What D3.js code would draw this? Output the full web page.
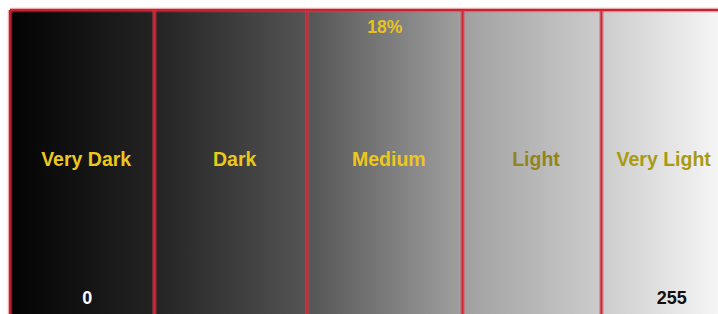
<!DOCTYPE html>
<html><head><meta charset="utf-8">
<script src="https://cdn.jsdelivr.net/npm/d3@7"></script>
<style>html,body{margin:0;padding:0;background:#fff;overflow:hidden}</style>
</head><body><svg id="c" width="718" height="314"></svg>
<script>
const zones = ["Very Dark","Dark","Medium","Light","Very Light"];
const boundaries = [0, 52, 107, 163, 213, 255];
const grayStops = [[0,3],[52,35],[107,84],[163,160],[213,204],[255,245]];
const lightZones = ["Light","Very Light"];
const markLabel = "18%";
const endLabels = ["0","255"];

const W = 718, H = 314, L = 10, T = 10;
const svg = d3.select("#c");
const x = d3.scaleLinear().domain([0,255]).range([L, W]);
const defs = svg.append("defs");
const grad = defs.append("linearGradient").attr("id","g")
  .attr("gradientUnits","userSpaceOnUse").attr("x1",x(0)).attr("x2",x(255)).attr("y1",0).attr("y2",0);
grad.selectAll("stop").data(grayStops).join("stop")
  .attr("offset", d => d[0]/255)
  .attr("stop-color", d => d3.rgb(d[1],d[1],d[1]));

svg.append("rect").attr("x",L).attr("y",T).attr("width",W-L).attr("height",H-T).attr("fill","url(#g)");

function redLine(x1,y1,x2,y2,core){
  svg.append("line").attr("x1",x1).attr("x2",x2).attr("y1",y1).attr("y2",y2)
    .attr("stroke","#e04050").attr("stroke-opacity",0.45).attr("stroke-width",4.5);
  svg.append("line").attr("x1",x1).attr("x2",x2).attr("y1",y1).attr("y2",y2)
    .attr("stroke",core).attr("stroke-width",2);
}
redLine(L,T,W,T,"#c4242e");
redLine(L,T,L,H,"#b8222a");
boundaries.slice(1,-1).forEach(b => redLine(x(b),T,x(b),H,"#d02834"));

const font = "'Liberation Sans', Arial, sans-serif";
svg.selectAll("text.z").data(zones).join("text").attr("class","z")
  .attr("x",(d,i)=> (x(boundaries[i])+x(boundaries[i+1]))/2 + 4)
  .attr("y",165.5)
  .attr("text-anchor","middle")
  .attr("font-family",font).attr("font-weight","bold").attr("font-size",19.5)
  .attr("fill", d => lightZones.includes(d) ? (d==="Light" ? "#928418" : "#a99a12") : "#edc81c")
  .text(d=>d);

svg.append("text").attr("x",(x(boundaries[2])+x(boundaries[3]))/2).attr("y",33)
  .attr("text-anchor","middle").attr("font-family",font).attr("font-weight","bold").attr("font-size",17.5)
  .attr("fill","#e6c41e").text(markLabel);

svg.append("text").attr("x",(x(boundaries[0])+x(boundaries[1]))/2 + 5).attr("y",304)
  .attr("text-anchor","middle").attr("font-family",font).attr("font-weight","bold").attr("font-size",18)
  .attr("fill","#fff").text(endLabels[0]);
svg.append("text").attr("x",(x(boundaries[4])+x(boundaries[5]))/2 + 12).attr("y",304)
  .attr("text-anchor","middle").attr("font-family",font).attr("font-weight","bold").attr("font-size",18)
  .attr("fill","#111").text(endLabels[1]);
</script></body></html>
